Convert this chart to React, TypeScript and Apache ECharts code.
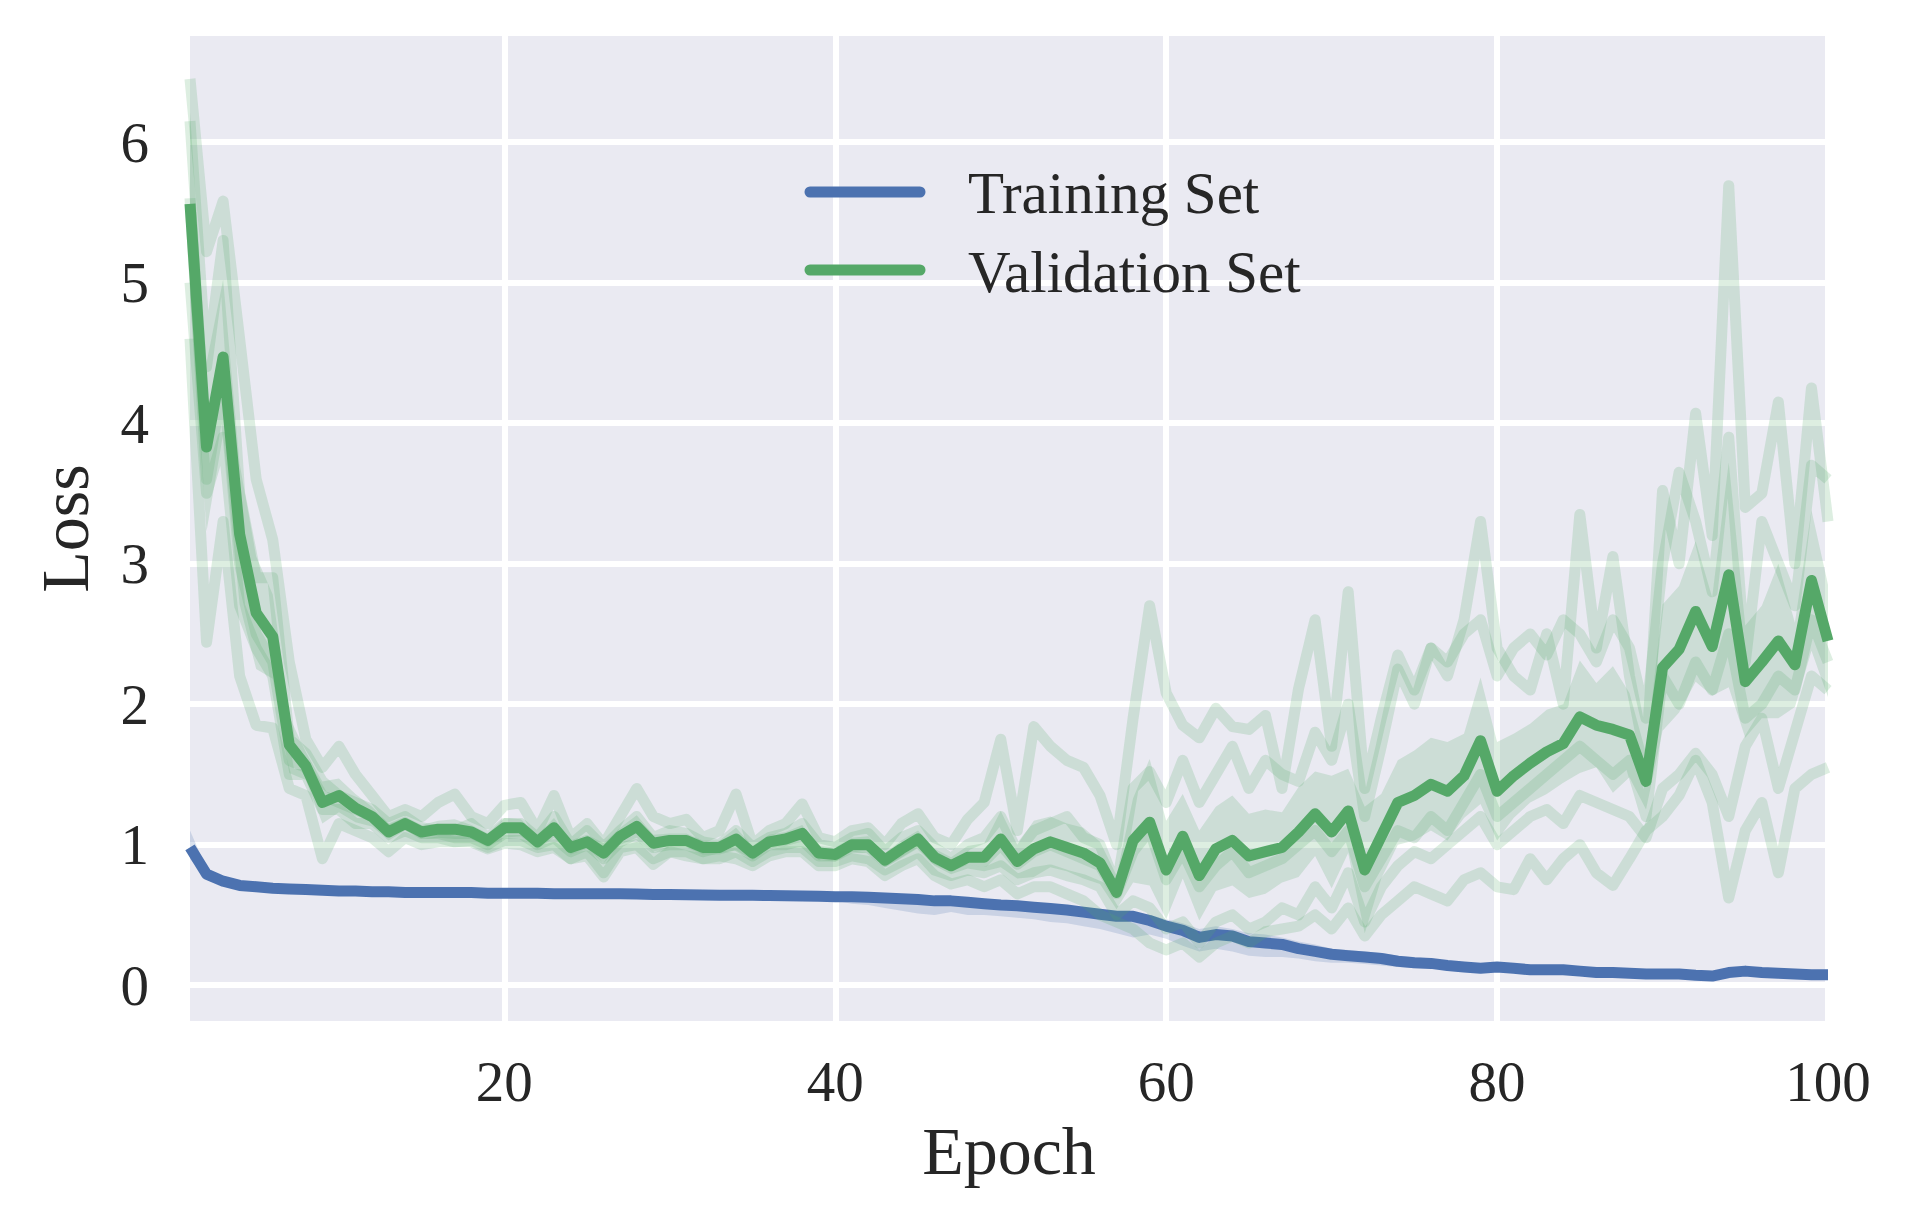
import React, { useEffect, useRef } from "react";
import * as echarts from "echarts";

const FONT = "Liberation Serif";
const TEXT_COLOR = "#262626";
const BLUE = "#4C72B0";
const GREEN = "#55A868";

const EPOCHS = Array.from({ length: 100 }, (_, i) => String(i + 1));
const X_TICKS = ["20", "40", "60", "80", "100"];
const Y_TICKS = [0, 1, 2, 3, 4, 5, 6];
const LEGEND_LABELS = ["Training Set", "Validation Set"];

const BLUE_MEAN = [
  0.98, 0.79, 0.74, 0.71, 0.70, 0.69, 0.685, 0.68, 0.675, 0.67,
  0.67, 0.665, 0.665, 0.66, 0.66, 0.66, 0.66, 0.66, 0.655, 0.655,
  0.655, 0.655, 0.65, 0.65, 0.65, 0.65, 0.65, 0.648, 0.646, 0.645,
  0.643, 0.642, 0.64, 0.64, 0.64, 0.638, 0.636, 0.634, 0.632, 0.63,
  0.63, 0.625, 0.62, 0.615, 0.61, 0.60, 0.60, 0.59, 0.58, 0.57,
  0.565, 0.555, 0.545, 0.535, 0.52, 0.505, 0.49, 0.49, 0.46, 0.42,
  0.39, 0.34, 0.36, 0.35, 0.31, 0.30, 0.29, 0.26, 0.24, 0.22,
  0.21, 0.20, 0.19, 0.17, 0.16, 0.155, 0.14, 0.13, 0.12, 0.13,
  0.12, 0.11, 0.11, 0.11, 0.10, 0.09, 0.09, 0.085, 0.08, 0.08,
  0.08, 0.07, 0.065, 0.09, 0.10, 0.09, 0.085, 0.08, 0.075, 0.075,
];

const BLUE_LO = [
  0.90, 0.75, 0.71, 0.69, 0.68, 0.675, 0.67, 0.665, 0.66, 0.655,
  0.655, 0.65, 0.65, 0.645, 0.645, 0.645, 0.645, 0.645, 0.64, 0.64,
  0.64, 0.64, 0.635, 0.635, 0.635, 0.63, 0.63, 0.63, 0.625, 0.625,
  0.62, 0.62, 0.62, 0.615, 0.615, 0.61, 0.61, 0.605, 0.60, 0.60,
  0.58, 0.57, 0.55, 0.53, 0.51, 0.50, 0.52, 0.50, 0.50, 0.49,
  0.48, 0.47, 0.45, 0.44, 0.42, 0.40, 0.37, 0.34, 0.36, 0.33,
  0.28, 0.24, 0.26, 0.24, 0.21, 0.20, 0.20, 0.19, 0.17, 0.16,
  0.16, 0.15, 0.14, 0.13, 0.12, 0.12, 0.11, 0.10, 0.10, 0.11,
  0.10, 0.09, 0.09, 0.09, 0.08, 0.07, 0.07, 0.065, 0.06, 0.06,
  0.06, 0.05, 0.05, 0.07, 0.08, 0.075, 0.07, 0.065, 0.06, 0.06,
];

const BLUE_HI = [
  1.10, 0.83, 0.76, 0.73, 0.72, 0.71, 0.70, 0.695, 0.69, 0.685,
  0.685, 0.68, 0.68, 0.675, 0.675, 0.675, 0.68, 0.675, 0.67, 0.67,
  0.67, 0.67, 0.665, 0.665, 0.665, 0.665, 0.665, 0.66, 0.66, 0.66,
  0.66, 0.655, 0.655, 0.655, 0.655, 0.655, 0.65, 0.65, 0.65, 0.65,
  0.65, 0.645, 0.64, 0.635, 0.63, 0.625, 0.62, 0.615, 0.61, 0.60,
  0.595, 0.585, 0.575, 0.565, 0.55, 0.535, 0.52, 0.52, 0.50, 0.47,
  0.44, 0.40, 0.42, 0.40, 0.37, 0.36, 0.34, 0.31, 0.29, 0.26,
  0.25, 0.24, 0.23, 0.21, 0.20, 0.19, 0.17, 0.16, 0.15, 0.16,
  0.15, 0.14, 0.14, 0.14, 0.13, 0.12, 0.115, 0.11, 0.105, 0.105,
  0.10, 0.095, 0.09, 0.13, 0.12, 0.11, 0.105, 0.10, 0.10, 0.095,
];

const GREEN_MEAN = [
  5.56, 3.83, 4.47, 3.21, 2.65, 2.48, 1.71, 1.56, 1.30, 1.35,
  1.26, 1.20, 1.09, 1.15, 1.09, 1.11, 1.11, 1.09, 1.03, 1.12,
  1.12, 1.02, 1.12, 0.98, 1.02, 0.94, 1.06, 1.13, 1.01, 1.03,
  1.03, 0.98, 0.98, 1.04, 0.94, 1.02, 1.04, 1.08, 0.94, 0.93,
  1.00, 1.00, 0.89, 0.97, 1.04, 0.91, 0.85, 0.91, 0.91, 1.04,
  0.88, 0.97, 1.02, 0.98, 0.94, 0.87, 0.66, 1.03, 1.16, 0.82,
  1.06, 0.78, 0.97, 1.03, 0.92, 0.95, 0.98, 1.09, 1.22, 1.09,
  1.24, 0.82, 1.06, 1.30, 1.35, 1.43, 1.38, 1.49, 1.74, 1.38,
  1.49, 1.58, 1.66, 1.72, 1.91, 1.85, 1.82, 1.78, 1.45, 2.26,
  2.39, 2.66, 2.41, 2.92, 2.16, 2.30, 2.45, 2.28, 2.88, 2.45,
];

// half-width of the shaded confidence band around the validation mean
const GREEN_SPREAD = [
  0.65, 0.6, 0.55, 0.5, 0.4, 0.3, 0.2, 0.1, 0.15, 0.12,
  0.1, 0.07, 0.06, 0.05, 0.05, 0.06, 0.07, 0.05, 0.05, 0.07,
  0.06, 0.05, 0.07, 0.05, 0.05, 0.07, 0.06, 0.08, 0.06, 0.05,
  0.05, 0.05, 0.05, 0.08, 0.05, 0.05, 0.05, 0.06, 0.05, 0.05,
  0.05, 0.06, 0.05, 0.06, 0.06, 0.06, 0.06, 0.08, 0.1, 0.2,
  0.12, 0.2, 0.18, 0.17, 0.18, 0.15, 0.12, 0.3, 0.45, 0.35,
  0.3, 0.32, 0.3, 0.32, 0.3, 0.3, 0.25, 0.32, 0.3, 0.4,
  0.3, 0.45, 0.3, 0.3, 0.32, 0.33, 0.35, 0.3, 0.45, 0.35,
  0.3, 0.28, 0.3, 0.28, 0.4, 0.3, 0.45, 0.3, 0.2, 0.45,
  0.45, 0.5, 0.35, 0.8, 0.4, 0.4, 0.55, 0.3, 0.5, 0.4,
];

const VAL_RUN_1 = [
  6.45, 5.22, 5.58, 4.6, 3.6, 3.17, 2.3, 1.75, 1.55, 1.7,
  1.5, 1.35, 1.2, 1.25, 1.2, 1.3, 1.36, 1.2, 1.15, 1.28,
  1.3, 1.1, 1.35, 1.05, 1.15, 1.0, 1.2, 1.40, 1.2, 1.15,
  1.18, 1.05, 1.1, 1.36, 1.0, 1.1, 1.15, 1.29, 1.05, 1.02,
  1.1, 1.12, 1.0, 1.15, 1.22, 1.05, 1.0, 1.18, 1.3, 1.75,
  1.1, 1.84, 1.7, 1.6, 1.55, 1.35, 1.0, 1.9, 2.7, 2.08,
  1.85, 1.76, 1.97, 1.84, 1.82, 1.92, 1.4, 2.11, 2.6, 1.7,
  2.8, 1.4, 1.9, 2.35, 2.1, 2.4, 2.2, 2.6, 3.3, 2.4,
  2.2, 2.1, 2.5, 2.0, 3.35, 2.4, 3.05, 2.2, 1.6, 3.52,
  3.0, 4.07, 3.2, 5.69, 3.4, 3.5, 4.15, 3.0, 4.25, 3.3,
];

const VAL_RUN_2 = [
  6.15, 4.4, 5.3, 3.5, 2.9, 2.9, 1.75, 1.65, 1.45, 1.35,
  1.3, 1.25, 1.15, 1.2, 1.12, 1.1, 1.1, 1.15, 1.05, 1.15,
  1.15, 1.05, 1.2, 1.0, 1.1, 0.98, 1.1, 1.2, 1.05, 1.1,
  1.08, 1.02, 1.0, 1.1, 0.98, 1.05, 1.08, 1.15, 1.0, 0.98,
  1.05, 1.08, 0.95, 1.05, 1.1, 0.98, 0.9, 1.0, 1.05, 1.2,
  0.95, 1.1, 1.15, 1.2, 1.05, 1.0, 0.7, 1.4, 1.52, 1.3,
  1.6, 1.3, 1.5, 1.7, 1.4, 1.6, 1.5, 1.45, 1.8, 1.6,
  2.0, 1.2, 1.7, 2.25, 2.0, 2.4, 2.3, 2.5, 2.6, 2.2,
  2.4, 2.5, 2.35, 2.6, 2.5, 2.3, 2.6, 2.4, 1.9, 3.0,
  3.65, 3.3, 2.8, 3.9, 2.3, 3.3, 3.0, 2.7, 3.7, 3.6,
];

const VAL_RUN_3 = [
  5.6, 3.6, 4.3, 3.0, 2.5, 2.3, 1.6, 1.55, 1.35, 1.3,
  1.25, 1.2, 1.1, 1.15, 1.08, 1.08, 1.05, 1.05, 1.0, 1.08,
  1.08, 1.0, 1.05, 0.95, 1.0, 0.9, 1.02, 1.08, 0.98, 1.0,
  1.0, 0.95, 0.98, 1.0, 0.92, 1.0, 1.0, 1.03, 0.92, 0.92,
  0.98, 0.98, 0.88, 0.95, 1.02, 0.9, 0.85, 0.9, 0.88, 1.0,
  0.86, 0.95, 1.0, 0.95, 0.9, 0.85, 0.65, 0.95, 1.1, 0.75,
  0.95, 0.7, 0.85, 0.95, 0.8, 0.85, 0.9, 1.0, 1.1, 0.95,
  1.1, 0.7, 0.9, 1.1, 1.05, 1.2, 1.1, 1.3, 1.5, 1.2,
  1.3, 1.4, 1.5, 1.6, 1.7, 1.6, 1.5, 1.6, 1.2, 2.2,
  2.0, 2.3, 2.1, 2.5, 1.9, 2.0, 2.2, 2.1, 2.6, 2.3,
];

const VAL_RUN_4 = [
  5.0, 3.5, 3.9, 2.7, 2.4, 2.2, 1.5, 1.5, 1.25, 1.25,
  1.15, 1.15, 1.05, 1.1, 1.05, 1.05, 1.02, 1.03, 0.98, 1.03,
  1.03, 0.98, 1.0, 0.9, 0.95, 0.8, 0.98, 1.0, 0.9, 0.95,
  0.95, 0.9, 0.9, 0.95, 0.88, 0.95, 0.98, 0.98, 0.88, 0.88,
  0.92, 0.9, 0.82, 0.88, 0.95, 0.82, 0.78, 0.82, 0.8, 0.85,
  0.75, 0.8, 0.82, 0.78, 0.75, 0.7, 0.5, 0.6, 0.55, 0.4,
  0.45, 0.3, 0.45, 0.5, 0.4, 0.45, 0.55, 0.5, 0.7, 0.55,
  0.8, 0.45, 0.7, 0.85, 0.95, 0.9, 1.0, 1.1, 1.2, 1.0,
  1.1, 1.2, 1.25, 1.15, 1.35, 1.3, 1.25, 1.2, 1.05, 1.4,
  1.5, 1.65, 1.5, 1.2, 1.7, 1.9, 1.4, 1.8, 2.2, 2.1,
];

const VAL_RUN_5 = [
  4.6, 2.44, 3.3, 2.2, 1.85, 1.83, 1.4, 1.35, 0.9, 1.15,
  1.1, 1.05, 0.95, 1.05, 1.0, 1.02, 1.02, 1.02, 0.97, 1.01,
  1.0, 0.95, 0.98, 0.9, 0.92, 0.77, 0.95, 0.98, 0.86, 0.95,
  0.92, 0.9, 0.92, 0.9, 0.85, 0.92, 0.95, 0.95, 0.85, 0.85,
  0.9, 0.88, 0.78, 0.85, 0.9, 0.78, 0.72, 0.75, 0.7, 0.75,
  0.65, 0.7, 0.7, 0.65, 0.6, 0.5, 0.45, 0.4, 0.3, 0.25,
  0.3, 0.2, 0.3, 0.35, 0.3, 0.38, 0.4, 0.42, 0.5, 0.4,
  0.55, 0.35, 0.5, 0.6, 0.7, 0.65, 0.6, 0.75, 0.8, 0.7,
  0.68, 0.9, 0.75, 0.9, 1.0, 0.8, 0.71, 0.9, 1.1, 1.2,
  1.35, 1.6, 1.3, 0.62, 1.1, 1.3, 0.8, 1.4, 1.5, 1.55,
];

const VAL_RUNS = [VAL_RUN_1, VAL_RUN_2, VAL_RUN_3, VAL_RUN_4, VAL_RUN_5];

function lineSeries(data: number[], color: string, opacity: number, z: number) {
  return {
    type: "line",
    data,
    symbol: "none",
    silent: true,
    z,
    emphasis: { disabled: true },
    lineStyle: { color, width: 11, opacity, join: "round", cap: "butt" },
    itemStyle: { color },
  };
}

function bandSeries(lower: number[], upper: number[], color: string, stack: string, z: number) {
  return [
    {
      type: "line",
      data: lower,
      stack,
      symbol: "none",
      silent: true,
      z,
      emphasis: { disabled: true },
      lineStyle: { opacity: 0, width: 0 },
    },
    {
      type: "line",
      data: upper.map((u, i) => u - lower[i]),
      stack,
      symbol: "none",
      silent: true,
      z,
      emphasis: { disabled: true },
      lineStyle: { opacity: 0, width: 0 },
      areaStyle: { color, opacity: 0.2 },
    },
  ];
}

export default function App() {
  const ref = useRef<HTMLDivElement>(null);

  useEffect(() => {
    document.body.style.margin = "0";
    const el = ref.current;
    if (!el) return;
    const chart = echarts.init(el, null, { renderer: "svg", width: 1906, height: 1215 });

    const greenLo = GREEN_MEAN.map((m, i) => m - GREEN_SPREAD[i]);
    const greenHi = GREEN_MEAN.map((m, i) => m + GREEN_SPREAD[i]);

    const isXTick = (_i: number, v: string) => X_TICKS.includes(v);

    const option = {
      animation: false,
      backgroundColor: "#ffffff",
      textStyle: { fontFamily: FONT, color: TEXT_COLOR },
      grid: {
        left: 190,
        top: 36,
        width: 1638,
        height: 985,
        show: true,
        backgroundColor: "#EAEAF2",
        borderWidth: 0,
        containLabel: false,
      },
      xAxis: {
        type: "category",
        data: EPOCHS,
        boundaryGap: false,
        axisLine: { show: false },
        axisTick: { show: false, interval: isXTick },
        axisLabel: {
          interval: isXTick,
          margin: 32,
          fontSize: 57,
          fontFamily: FONT,
          color: TEXT_COLOR,
        },
        splitLine: {
          show: true,
          interval: isXTick,
          lineStyle: { color: "#ffffff", width: 6 },
        },
        name: "Epoch",
        nameLocation: "middle",
        nameGap: 96,
        nameTextStyle: { fontSize: 68, fontFamily: FONT, color: TEXT_COLOR },
      },
      yAxis: {
        type: "value",
        min: -0.255,
        max: 6.755,
        axisLine: { show: false },
        axisTick: { show: false, customValues: Y_TICKS },
        axisLabel: {
          customValues: Y_TICKS,
          margin: 41,
          fontSize: 57,
          fontFamily: FONT,
          color: TEXT_COLOR,
          formatter: (v: number) => String(v),
        },
        splitLine: { show: true, lineStyle: { color: "#ffffff", width: 6 } },
        name: "Loss",
        nameLocation: "middle",
        nameRotate: 90,
        nameGap: 91,
        nameTextStyle: { fontSize: 68, fontFamily: FONT, color: TEXT_COLOR },
      },
      graphic: [
        {
          type: "line",
          shape: { x1: 810, y1: 192, x2: 920, y2: 192 },
          style: { stroke: BLUE, lineWidth: 11, lineCap: "round" },
          z: 100,
        },
        {
          type: "text",
          x: 968,
          y: 193,
          style: {
            text: LEGEND_LABELS[0],
            fontSize: 59,
            fontFamily: FONT,
            fill: TEXT_COLOR,
            verticalAlign: "middle",
          },
          z: 100,
        },
        {
          type: "line",
          shape: { x1: 810, y1: 270, x2: 920, y2: 270 },
          style: { stroke: GREEN, lineWidth: 11, lineCap: "round" },
          z: 100,
        },
        {
          type: "text",
          x: 968,
          y: 272,
          style: {
            text: LEGEND_LABELS[1],
            fontSize: 59,
            fontFamily: FONT,
            fill: TEXT_COLOR,
            verticalAlign: "middle",
          },
          z: 100,
        },
      ],
      series: [
        ...bandSeries(BLUE_LO, BLUE_HI, BLUE, "blueBand", 2),
        lineSeries(BLUE_MEAN, BLUE, 1, 3),
        ...VAL_RUNS.map((r) => lineSeries(r, GREEN, 0.2, 4)),
        ...bandSeries(greenLo, greenHi, GREEN, "greenBand", 5),
        lineSeries(GREEN_MEAN, GREEN, 1, 6),
      ],
    };

    chart.setOption(option as any);
    return () => chart.dispose();
  }, []);

  return <div ref={ref} style={{ width: 1906, height: 1215, background: "#ffffff" }} />;
}
